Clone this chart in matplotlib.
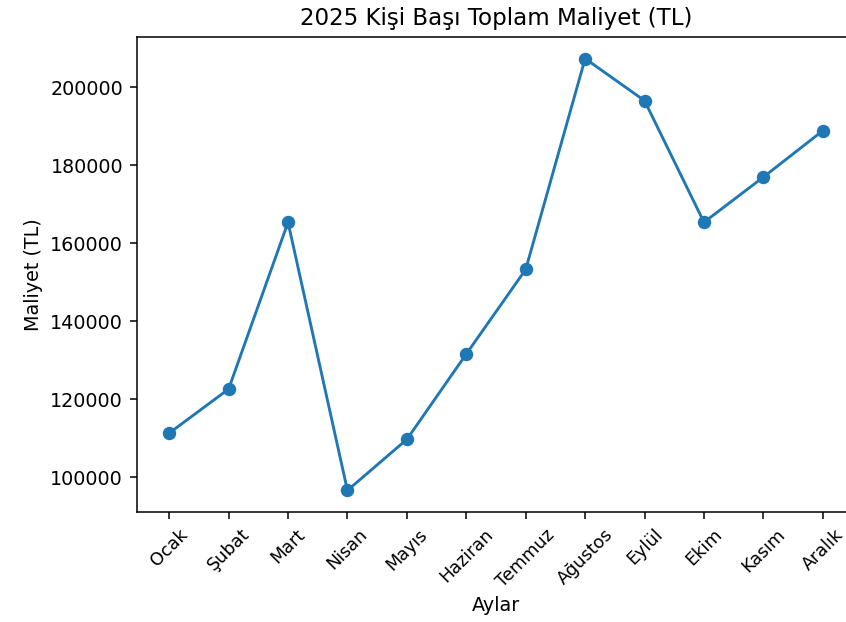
import matplotlib
matplotlib.use("Agg")
import matplotlib.pyplot as plt

months = ["Ocak", "Şubat", "Mart", "Nisan", "Mayıs", "Haziran", "Temmuz",
          "Ağustos", "Eylül", "Ekim", "Kasım", "Aralık"]
costs = [111300, 122600, 165400, 96600, 109700, 131600, 153300,
         207400, 196600, 165400, 177000, 188900]

DPI = 138
fig = plt.figure(figsize=(846 / DPI, 622 / DPI), dpi=DPI)
ax = fig.add_axes([136.5 / 846, 1 - 512 / 622, 719 / 846, 475 / 622])
ax.plot(months, costs, marker="o", color="#1f77b4")
ax.set_title("2025 Kişi Başı Toplam Maliyet (TL)")
ax.set_xlabel("Aylar", labelpad=3)
ax.set_ylabel("Maliyet (TL)")
ax.set_yticks([100000, 120000, 140000, 160000, 180000, 200000])
ax.tick_params(axis="x", labelsize=9.2)
plt.setp(ax.get_xticklabels(), rotation=45)
fig.savefig("out.png", dpi=DPI)
